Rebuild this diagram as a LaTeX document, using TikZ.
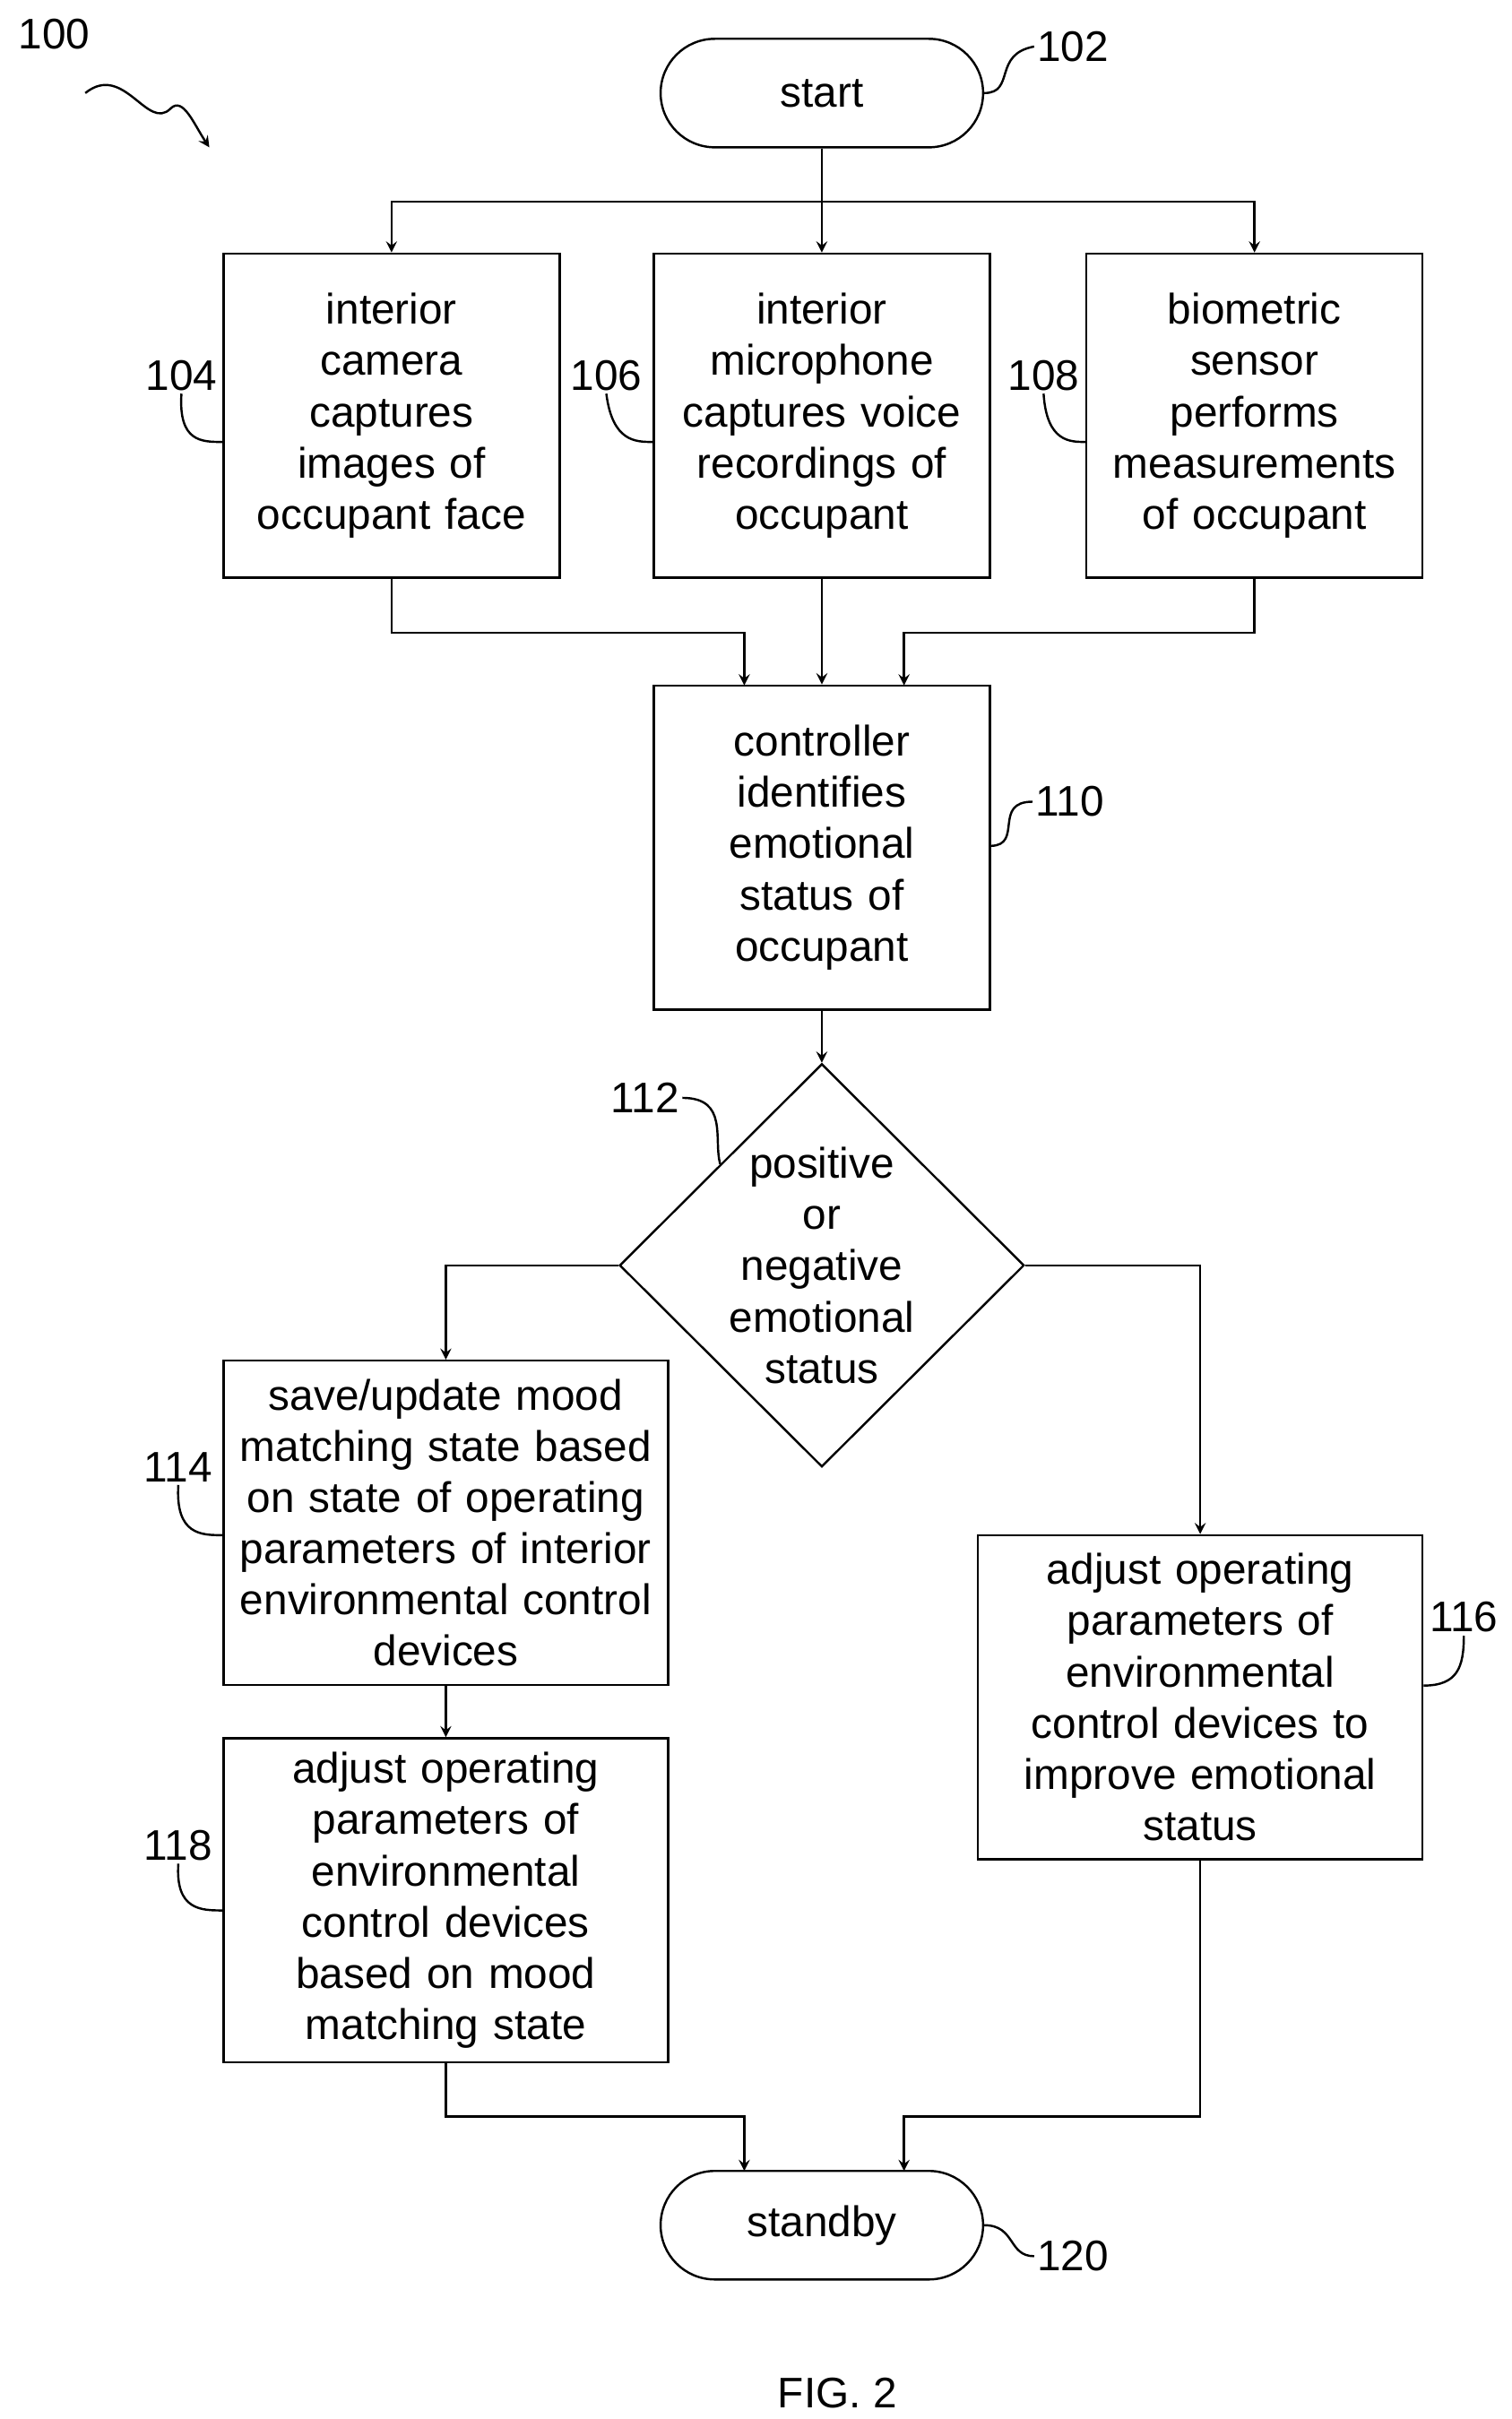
\documentclass[tikz,border=0pt]{standalone}
\usepackage{fontspec}
\setmainfont{Liberation Sans}
\usetikzlibrary{shapes.geometric, arrows}
\tikzstyle{startstop} = [rectangle, rounded corners=0.7cm, minimum width=4.16cm, minimum height=1.4cm, text centered, draw=black, thick]
\tikzstyle{process} = [rectangle, minimum width=4.18cm, minimum height=4.18cm, text width=4.1cm, align=center, draw=black, thick]
\tikzstyle{decision} = [diamond, minimum width=5.22cm, minimum height=5.2cm, inner sep=0pt, draw=black, thick]
\tikzstyle{arrow} = [thick,->,>=stealth]
\tikzstyle{line} = [thick]
\tikzstyle{ref} = [inner sep=1pt]

\begin{document}
\begin{tikzpicture}[x=0.02cm, y=-0.02cm, font=\fontsize{15.7}{18.8}\selectfont]
        \useasboundingbox (0,0) rectangle (975,1560);
        \node (start) [startstop] at (530,60) {start};
        \node (camera) [process, minimum width=4.18cm] at (252.5,268) {interior\\camera\\captures\\images of\\occupant face};
        \node (mic) [process] at (530,268) {interior\\microphone\\captures voice\\recordings of\\occupant};
        \node (bio) [process] at (809,268) {biometric\\sensor\\performs\\measurements\\of occupant};
        \node (ctrl) [process] at (530,546.5) {controller\\identifies\\emotional\\status of\\occupant};
        \node (decision1) [decision] at (530,816) {};
        \node (dtext) [align=center] at (530,816) {positive\\or\\negative\\emotional\\status};
        \node (save) [process, minimum width=5.58cm, text width=5.5cm] at (287.5,982) {save/update mood\\matching state based\\on state of operating\\parameters of interior\\environmental control\\devices};
        \node (adjmood) [process, minimum width=5.58cm, text width=5.5cm] at (287.5,1225.5) {adjust operating\\parameters of\\environmental\\control devices\\based on mood\\matching state};
        \node (improve) [process, minimum width=5.56cm, text width=5.5cm] at (774,1094.5) {adjust operating\\parameters of\\environmental\\control devices to\\improve emotional\\status};
        \node (stop) [startstop] at (530,1435) {standby};
        \node (fig) at (540,1543) {FIG. 2};

        % reference numerals
        \node (l100) [ref] at (35,22) {100};
        \node (l102) [ref] at (692,30) {102};
        \node (l104) [ref] at (117,242) {104};
        \node (l106) [ref] at (391,242) {106};
        \node (l108) [ref] at (673,242) {108};
        \node (l110) [ref] at (690,517) {110};
        \node (l112) [ref] at (416,708) {112};
        \node (l114) [ref] at (115,946) {114};
        \node (l116) [ref] at (944,1043) {116};
        \node (l118) [ref] at (115,1190) {118};
        \node (l120) [ref] at (692,1455) {120};
        \coordinate (tip100) at (135,95);

        \draw [arrow] (55,60) .. controls (80,40) and (95,85) .. (110,70) .. controls (118,62) and (125,80) .. (tip100);
        \draw [line] (start.east) .. controls (655,60) and (640,35) .. (l102.west);
        \draw [line] (l104.south) .. controls (115,285) and (130,285) .. ([yshift=-0.34cm]camera.west);
        \draw [line] (l106.south) .. controls (395,285) and (410,285) .. ([yshift=-0.34cm]mic.west);
        \draw [line] (l108.south) .. controls (675,285) and (690,285) .. ([yshift=-0.34cm]bio.west);
        \draw [line] ([yshift=0.02cm]ctrl.east) .. controls (660,545) and (640,517) .. (l110.west);
        \draw [line] (l112.east) .. controls (470,708) and (460,735) .. (decision1.north west);
        \draw [line] (l114.south) .. controls (113,990) and (130,990) .. ([yshift=-0.16cm]save.west);
        \draw [line] (l118.south) .. controls (113,1232) and (130,1232) .. ([yshift=-0.13cm]adjmood.west);
        \draw [line] ([yshift=0.15cm]improve.east) .. controls (940,1087) and (944,1075) .. (l116.south);
        \draw [line] (stop.east) .. controls (655,1435) and (650,1455) .. (l120.west);

        % connectors
        \draw [line] (start.south) -- (530,130);
        \draw [arrow] (530,130) -| (camera.north);
        \draw [arrow] (530,130) -- (mic.north);
        \draw [arrow] (530,130) -| (bio.north);
        \draw [arrow] (camera.south) |- (480,408) -- (480,442);
        \draw [arrow] (bio.south) |- (583,408) -- (583,442);
        \draw [arrow] (mic.south) -- (ctrl.north);
        \draw [arrow] (ctrl.south) -- (decision1.north);
        \draw [arrow] (decision1.west) -| (save.north);
        \draw [arrow] (decision1.east) -| (improve.north);
        \draw [arrow] (save.south) -- (adjmood.north);
        \draw [arrow] (adjmood.south) |- (480,1365) -- (480,1400);
        \draw [arrow] (improve.south) |- (583,1365) -- (583,1400);
    \end{tikzpicture}
\end{document}
